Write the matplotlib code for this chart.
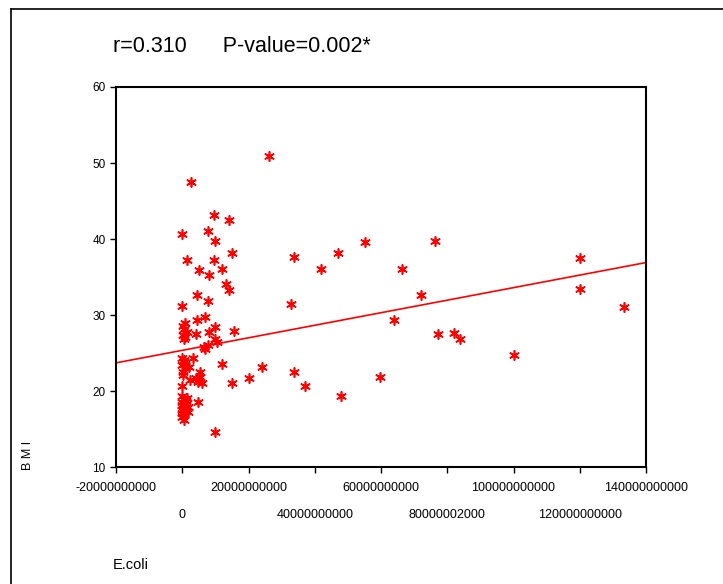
import numpy as np
import matplotlib
matplotlib.use('Agg')
import matplotlib.pyplot as plt
from matplotlib.lines import Line2D

plt.rcParams['font.family'] = ['Liberation Sans', 'DejaVu Sans']

# E.coli counts and BMI
ecoli = [1.2e11, 1.2e11, 1.333e11, 1.0e11, 8.39e10, 8.2e10, 7.72e10, 7.62e10, 7.22e10, 6.63e10,
         6.39e10, 5.97e10, 5.53e10, 4.79e10, 4.70e10, 4.20e10, 3.70e10, 3.37e10, 3.37e10, 3.29e10,
         2.61e10, 2.42e10, 2.0e10, 1.55e10, 1.50e10, 1.51e10, 1.41e10, 1.41e10, 1.31e10, 1.19e10,
         1.19e10, 9.6e9, 1.0e10, 9.5e9, 1.0e10, 9.9e9, 1.06e10, 1.0e10, 8.1e9, 7.8e9,
         7.7e9, 8.1e9, 7.8e9, 7.0e9, 6.6e9, 6.9e9, 5.1e9, 4.5e9, 4.5e9, 4.2e9,
         2.7e9, 1.3e9, 0.0, 0.0, 3.3e9, 5.4e9, 4.2e9, 5.4e9, 5.9e9, 4.7e9,
         2.3e9, 2.1e9, 4.8e9, 1.5e9, 0.0,
         9.2e8, 5.3e8, 1.34e9, 1.4e8, 9.2e8, 5.3e8, 2.3e8,
         0.0, 3.9e8, 0.0, 9.2e8, 1.4e8, 5.3e8, 2.3e8,
         0.0, 5.3e8, 0.0, 1.13e9, 0.0, 5.3e8, 0.0, 1.13e9, 0.0, 5.3e8, 0.0, 5.3e8, 1.74e9, 1.65e9, 1.13e9]
bmi = [37.5, 33.4, 31.1, 24.8, 26.8, 27.6, 27.5, 39.8, 32.6, 36.0,
       29.3, 21.8, 39.6, 19.4, 38.2, 36.1, 20.7, 22.5, 37.6, 31.4,
       50.9, 23.1, 21.7, 27.9, 38.2, 21.1, 42.5, 33.3, 34.1, 36.1,
       23.6, 43.2, 39.7, 37.2, 28.4, 26.8, 26.5, 14.6, 35.2, 41.1,
       31.8, 27.8, 26.0, 25.5, 25.8, 29.7, 35.9, 32.6, 29.3, 27.5,
       47.5, 37.2, 40.6, 31.2, 24.3, 22.5, 21.7, 21.8, 21.0, 21.2,
       21.5, 23.1, 18.6, 19.1, 20.7,
       28.9, 28.1, 27.8, 27.4, 27.1, 26.8, 28.6,
       24.4, 24.1, 23.4, 23.0, 22.5, 23.8, 22.1,
       19.3, 19.0, 18.6, 18.3, 18.1, 17.8, 17.5, 17.4, 17.1, 16.8, 16.6, 16.2, 17.9, 17.3, 18.7]

# regression line as shown in the reference
fit_intercept = 25.35
fit_slope = 8.25e-11

xticks = [-2e10, 0, 2e10, 4e10, 6e10, 8e10, 1e11, 1.2e11, 1.4e11]
xlabels = ['-20000000000', '0', '20000000000', '40000000000', '60000000000',
           '80000002000', '100000000000', '120000000000', '140000000000']
yticks = [10, 20, 30, 40, 50, 60]

fig = plt.figure(figsize=(7.23, 5.84), dpi=100)
ax = fig.add_axes([116/723, 1-467/584, 530/723, 380/584])

ax.scatter(ecoli, bmi, marker=(6, 2, 0), s=45, color='red', linewidths=1.2)

xl = np.array([xticks[0], xticks[-1]])
ax.plot(xl, fit_intercept + fit_slope * xl, color='red', lw=1.2)

ax.set_xlim(xticks[0], xticks[-1])
ax.set_ylim(10, 60)
ax.set_yticks(yticks)
ax.set_yticklabels([str(v) for v in yticks], fontsize=8.5)
ax.set_xticks(xticks)
ax.set_xticklabels([])
# staggered x labels, two rows
for i, (t, lab) in enumerate(zip(xticks, xlabels)):
    yoff = -21 if i % 2 == 0 else -48
    ax.annotate(lab, xy=(t, 10), xycoords='data', xytext=(0, yoff),
                textcoords='offset pixels', ha='center', va='center', fontsize=9)
for s in ax.spines.values():
    s.set_linewidth(1.5)
ax.tick_params(direction='out', length=4, width=1)

fig.text(113/723, 1-47/584, 'r=0.310      P-value=0.002*', fontsize=15.5, va='center', ha='left')
fig.text(28/723, 1-455/584, 'B M I', rotation=90, fontsize=9, ha='center', va='center')
fig.text(113/723, 1-565/584, 'E.coli', fontsize=10.5, ha='left', va='center')

# outer frame (top and left edges only)
fig.add_artist(Line2D([11/723, 11/723], [0, 1-9/584], transform=fig.transFigure, color='black', lw=1.2))
fig.add_artist(Line2D([11/723, 1], [1-9/584, 1-9/584], transform=fig.transFigure, color='black', lw=1.2))

fig.savefig('out.png', dpi=100)
